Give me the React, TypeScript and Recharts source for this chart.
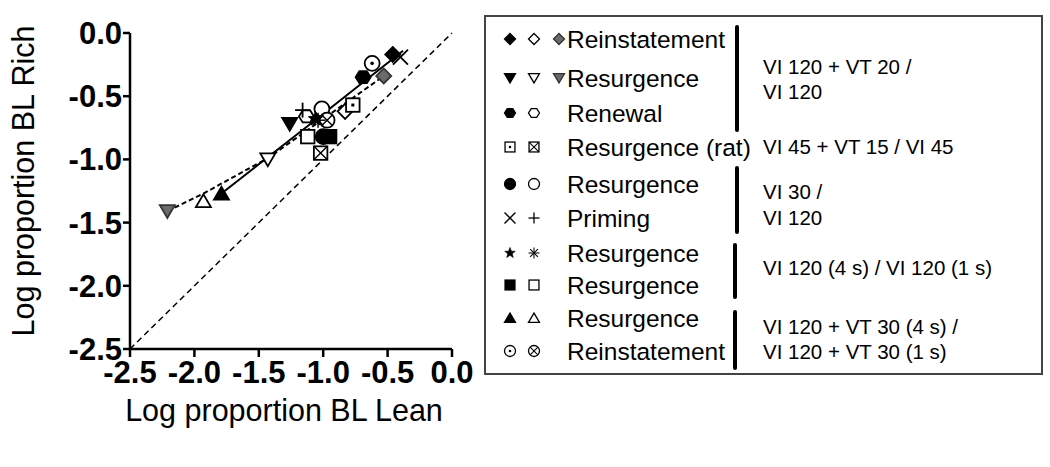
import React from "react";
import {
  ScatterChart,
  Scatter,
  XAxis,
  YAxis,
  ReferenceLine,
  Legend,
} from "recharts";

// axis ticks
const xTicks = [-2.5, -2.0, -1.5, -1.0, -0.5, 0.0];
const yTicks = [-2.5, -2.0, -1.5, -1.0, -0.5, 0.0];

// VI 120 + VT 20 / VI 120
const reinstFilled = [{ x: -0.46, y: -0.17 }];
const reinstOpen = [{ x: -0.83, y: -0.62 }];
const reinstGray = [{ x: -0.53, y: -0.34 }];
const resurgFilledDown = [{ x: -1.26, y: -0.72 }];
const resurgOpenDown = [{ x: -1.43, y: -1.0 }];
const resurgGrayDown = [{ x: -2.21, y: -1.41 }];
const renewalFilled = [{ x: -0.69, y: -0.35 }];
const renewalOpen = [{ x: -1.13, y: -0.66 }];
// VI 45 + VT 15 / VI 45 (rat)
const ratDot = [{ x: -0.77, y: -0.57 }];
const ratCross = [{ x: -1.02, y: -0.95 }];
// VI 30 / VI 120
const vi30Filled = [{ x: -1.0, y: -0.82 }];
const vi30Open = [{ x: -1.01, y: -0.6 }];
const primingX = [{ x: -0.4, y: -0.19 }];
const primingPlus = [{ x: -1.16, y: -0.61 }];
// VI 120 (4 s) / VI 120 (1 s)
const starFilled = [{ x: -1.06, y: -0.68 }];
const starAsterisk = [{ x: -1.04, y: -0.69 }];
const squareFilled = [{ x: -0.95, y: -0.82 }];
const squareOpen = [{ x: -1.12, y: -0.82 }];
// VI 120 + VT 30 (4 s) / VI 120 + VT 30 (1 s)
const triFilledUp = [{ x: -1.79, y: -1.27 }];
const triOpenUp = [{ x: -1.93, y: -1.33 }];
const circleDot = [{ x: -0.62, y: -0.24 }];
const circleCross = [{ x: -0.97, y: -0.69 }];

// fitted lines
const fitSolid = [
  { x: -1.79, y: -1.27 },
  { x: -1.1, y: -0.72 },
  { x: -0.38, y: -0.14 },
];
const fitDashed = [
  { x: -2.21, y: -1.41 },
  { x: -1.93, y: -1.27 },
  { x: -1.43, y: -0.99 },
  { x: -1.0, y: -0.68 },
  { x: -0.53, y: -0.34 },
];

const legendLabels = [
  "Reinstatement",
  "Resurgence",
  "Renewal",
  "Resurgence (rat)",
  "Resurgence",
  "Priming",
  "Resurgence",
  "Resurgence",
  "Resurgence",
  "Reinstatement",
];
const conditionLines = [
  "VI 120 + VT 20 /",
  "VI 120",
  "VI 45 + VT 15 / VI 45",
  "VI 30 /",
  "VI 120",
  "VI 120 (4 s) / VI 120 (1 s)",
  "VI 120 + VT 30 (4 s) /",
  "VI 120 + VT 30 (1 s)",
];

const FONT = "'Liberation Sans', Arial, Helvetica, sans-serif";
const GRAY = "#6b6b6b";

type Kind =
  | "diamond"
  | "triDown"
  | "triUp"
  | "hex"
  | "circle"
  | "square"
  | "squareDot"
  | "squareX"
  | "circleDot"
  | "circleX"
  | "cross"
  | "plus"
  | "star"
  | "asterisk";

const Marker = ({
  kind,
  cx,
  cy,
  s,
  fill,
  sw,
}: {
  kind: Kind;
  cx: number;
  cy: number;
  s: number;
  fill: string;
  sw: number;
}) => {
  const h = s / 2;
  const stroke = fill === GRAY ? "#333" : "#000";
  const common = { fill, stroke, strokeWidth: sw };
  switch (kind) {
    case "diamond":
      return (
        <polygon
          points={`${cx},${cy - h} ${cx + h},${cy} ${cx},${cy + h} ${cx - h},${cy}`}
          {...common}
        />
      );
    case "triDown":
      return (
        <polygon
          points={`${cx - h},${cy - s * 0.4} ${cx + h},${cy - s * 0.4} ${cx},${cy + s * 0.45}`}
          {...common}
        />
      );
    case "triUp":
      return (
        <polygon
          points={`${cx - h},${cy + s * 0.4} ${cx + h},${cy + s * 0.4} ${cx},${cy - s * 0.45}`}
          {...common}
        />
      );
    case "hex": {
      const pts = [0, 60, 120, 180, 240, 300]
        .map((a) => {
          const r = (a * Math.PI) / 180;
          return `${cx + h * Math.cos(r)},${cy + h * 0.92 * Math.sin(r)}`;
        })
        .join(" ");
      return <polygon points={pts} {...common} />;
    }
    case "circle":
      return <circle cx={cx} cy={cy} r={h} {...common} />;
    case "square":
      return <rect x={cx - h * 0.9} y={cy - h * 0.9} width={s * 0.9} height={s * 0.9} {...common} />;
    case "squareDot":
      return (
        <g>
          <rect x={cx - h * 0.9} y={cy - h * 0.9} width={s * 0.9} height={s * 0.9} {...common} />
          <rect x={cx - s * 0.1} y={cy - s * 0.1} width={s * 0.2} height={s * 0.2} fill="#000" />
        </g>
      );
    case "squareX": {
      const a = h * 0.9;
      return (
        <g>
          <rect x={cx - a} y={cy - a} width={2 * a} height={2 * a} {...common} />
          <line x1={cx - a} y1={cy - a} x2={cx + a} y2={cy + a} stroke="#000" strokeWidth={sw * 0.8} />
          <line x1={cx - a} y1={cy + a} x2={cx + a} y2={cy - a} stroke="#000" strokeWidth={sw * 0.8} />
        </g>
      );
    }
    case "circleDot":
      return (
        <g>
          <circle cx={cx} cy={cy} r={h} {...common} />
          <circle cx={cx} cy={cy} r={s * 0.12} fill="#000" />
        </g>
      );
    case "circleX": {
      const a = h * 0.7;
      return (
        <g>
          <circle cx={cx} cy={cy} r={h} {...common} />
          <line x1={cx - a} y1={cy - a} x2={cx + a} y2={cy + a} stroke="#000" strokeWidth={sw * 0.8} />
          <line x1={cx - a} y1={cy + a} x2={cx + a} y2={cy - a} stroke="#000" strokeWidth={sw * 0.8} />
        </g>
      );
    }
    case "cross":
      return (
        <g stroke="#000" strokeWidth={sw}>
          <line x1={cx - h} y1={cy - h} x2={cx + h} y2={cy + h} />
          <line x1={cx - h} y1={cy + h} x2={cx + h} y2={cy - h} />
        </g>
      );
    case "plus":
      return (
        <g stroke="#000" strokeWidth={sw}>
          <line x1={cx - h} y1={cy} x2={cx + h} y2={cy} />
          <line x1={cx} y1={cy - h} x2={cx} y2={cy + h} />
        </g>
      );
    case "star": {
      const pts: string[] = [];
      for (let i = 0; i < 10; i++) {
        const r = i % 2 === 0 ? h : h * 0.42;
        const a = (-90 + i * 36) * (Math.PI / 180);
        pts.push(`${cx + r * Math.cos(a)},${cy + r * Math.sin(a)}`);
      }
      return <polygon points={pts.join(" ")} fill="#000" stroke="#000" strokeWidth={sw * 0.5} />;
    }
    case "asterisk":
      return (
        <g stroke="#000" strokeWidth={sw * 0.8}>
          {[0, 45, 90, 135].map((a) => {
            const r = (a * Math.PI) / 180;
            return (
              <line
                key={a}
                x1={cx - h * Math.cos(r)}
                y1={cy - h * Math.sin(r)}
                x2={cx + h * Math.cos(r)}
                y2={cy + h * Math.sin(r)}
              />
            );
          })}
        </g>
      );
    default:
      return null;
  }
};

const pointSeries: { data: { x: number; y: number }[]; kind: Kind; fill: string }[] = [
  { data: reinstFilled, kind: "diamond", fill: "#000" },
  { data: reinstOpen, kind: "diamond", fill: "#fff" },
  { data: reinstGray, kind: "diamond", fill: GRAY },
  { data: resurgFilledDown, kind: "triDown", fill: "#000" },
  { data: resurgOpenDown, kind: "triDown", fill: "#fff" },
  { data: resurgGrayDown, kind: "triDown", fill: GRAY },
  { data: renewalFilled, kind: "hex", fill: "#000" },
  { data: renewalOpen, kind: "hex", fill: "#fff" },
  { data: ratDot, kind: "squareDot", fill: "#fff" },
  { data: ratCross, kind: "squareX", fill: "#fff" },
  { data: vi30Open, kind: "circle", fill: "#fff" },
  { data: primingX, kind: "cross", fill: "#000" },
  { data: primingPlus, kind: "plus", fill: "#000" },
  { data: squareOpen, kind: "square", fill: "#fff" },
  { data: squareFilled, kind: "square", fill: "#000" },
  { data: vi30Filled, kind: "circle", fill: "#000" },
  { data: triFilledUp, kind: "triUp", fill: "#000" },
  { data: triOpenUp, kind: "triUp", fill: "#fff" },
  { data: circleDot, kind: "circleDot", fill: "#fff" },
  { data: circleCross, kind: "circleX", fill: "#fff" },
  { data: starFilled, kind: "star", fill: "#000" },
  { data: starAsterisk, kind: "asterisk", fill: "#000" },
];

// legend symbols per row: [kind, fill]
const legendSymbols: [Kind, string][][] = [
  [["diamond", "#000"], ["diamond", "#fff"], ["diamond", GRAY]],
  [["triDown", "#000"], ["triDown", "#fff"], ["triDown", GRAY]],
  [["hex", "#000"], ["hex", "#fff"]],
  [["squareDot", "#fff"], ["squareX", "#fff"]],
  [["circle", "#000"], ["circle", "#fff"]],
  [["cross", "#000"], ["plus", "#000"]],
  [["star", "#000"], ["asterisk", "#000"]],
  [["square", "#000"], ["square", "#fff"]],
  [["triUp", "#000"], ["triUp", "#fff"]],
  [["circleDot", "#fff"], ["circleX", "#fff"]],
];

const LegendBox = () => {
  const rowY = [24, 63, 98, 132, 169, 203, 238, 270, 303, 336];
  const symX = [26, 50, 75];
  const condY = [52, 77, 132, 177, 203, 253, 312, 337];
  const bars = [
    [253, 12, 115],
    [253, 153, 217],
    [251, 230, 282],
    [251, 297, 353],
  ];
  return (
    <svg width={560} height={362} style={{ display: "block" }}>
      <rect x={1} y={1} width={557} height={358} fill="#fff" stroke="#444" strokeWidth={2} />
      {legendSymbols.map((row, i) =>
        row.map(([kind, fill], j) => (
          <Marker key={`${i}-${j}`} kind={kind} cx={symX[j]} cy={rowY[i]} s={11} fill={fill} sw={1.3} />
        ))
      )}
      {legendLabels.map((t, i) => (
        <text key={i} x={83} y={rowY[i] + 9} fontSize={24.5} fontFamily={FONT} fill="#000">
          {t}
        </text>
      ))}
      {conditionLines.map((t, i) => (
        <text key={i} x={279} y={condY[i] + 7} fontSize={20.5} fontFamily={FONT} fill="#000">
          {t}
        </text>
      ))}
      {bars.map(([x, y1, y2], i) => (
        <line key={i} x1={x} y1={y1} x2={x} y2={y2} stroke="#000" strokeWidth={4} strokeLinecap="round" />
      ))}
    </svg>
  );
};

const tickStyle = { fill: "#000", fontSize: 31, fontWeight: "bold", fontFamily: FONT };
const labelStyle = { fill: "#000", fontSize: 30.5, fontFamily: FONT };

export default function App() {
  return (
    <div style={{ position: "absolute", left: 0, top: 0, width: 1050, height: 467, background: "#fff" }}>
      <ScatterChart width={1050} height={467} margin={{ top: 33, right: 598, left: 30, bottom: 58 }}>
        <XAxis
          type="number"
          dataKey="x"
          domain={[-2.5, 0]}
          ticks={xTicks}
          interval={0}
          allowDataOverflow
          tickFormatter={(v: number) => v.toFixed(1)}
          height={60}
          axisLine={{ stroke: "#000", strokeWidth: 2.5 }}
          tickLine={{ stroke: "#000", strokeWidth: 2.5 }}
          tickSize={8}
          tickMargin={4}
          tick={tickStyle}
          label={{ value: "Log proportion BL Lean", position: "center", dx: -7, dy: 31, style: labelStyle }}
        />
        <YAxis
          type="number"
          dataKey="y"
          domain={[-2.5, 0]}
          ticks={yTicks}
          interval={0}
          allowDataOverflow
          tickFormatter={(v: number) => v.toFixed(1)}
          width={100}
          axisLine={{ stroke: "#000", strokeWidth: 2.5 }}
          tickLine={{ stroke: "#000", strokeWidth: 2.5 }}
          tickSize={7}
          tickMargin={1}
          tick={tickStyle}
          label={{
            value: "Log proportion BL Rich",
            angle: -90,
            position: "center",
            dx: -57,
            dy: -10,
            style: labelStyle,
          }}
        />
        <ReferenceLine
          segment={[
            { x: -2.5, y: -2.5 },
            { x: 0, y: 0 },
          ]}
          stroke="#000"
          strokeWidth={1.5}
          strokeDasharray="6 4"
          ifOverflow="visible"
        />
        <Scatter
          data={fitDashed}
          isAnimationActive={false}
          line={{ stroke: "#000", strokeWidth: 2, strokeDasharray: "5 3" }}
          shape={() => <g />}
        />
        <Scatter
          data={fitSolid}
          isAnimationActive={false}
          line={{ stroke: "#000", strokeWidth: 2 }}
          shape={() => <g />}
        />
        {pointSeries.map((ser, i) => (
          <Scatter
            key={i}
            data={ser.data}
            isAnimationActive={false}
            shape={(p: any) => <Marker kind={ser.kind} cx={p.cx} cy={p.cy} s={15} fill={ser.fill} sw={1.8} />}
          />
        ))}
        <Legend
          layout="horizontal"
          align="center"
          verticalAlign="middle"
          wrapperStyle={{ left: 484, top: 15, width: 560, height: 362 }}
          content={() => <LegendBox />}
        />
      </ScatterChart>
    </div>
  );
}
